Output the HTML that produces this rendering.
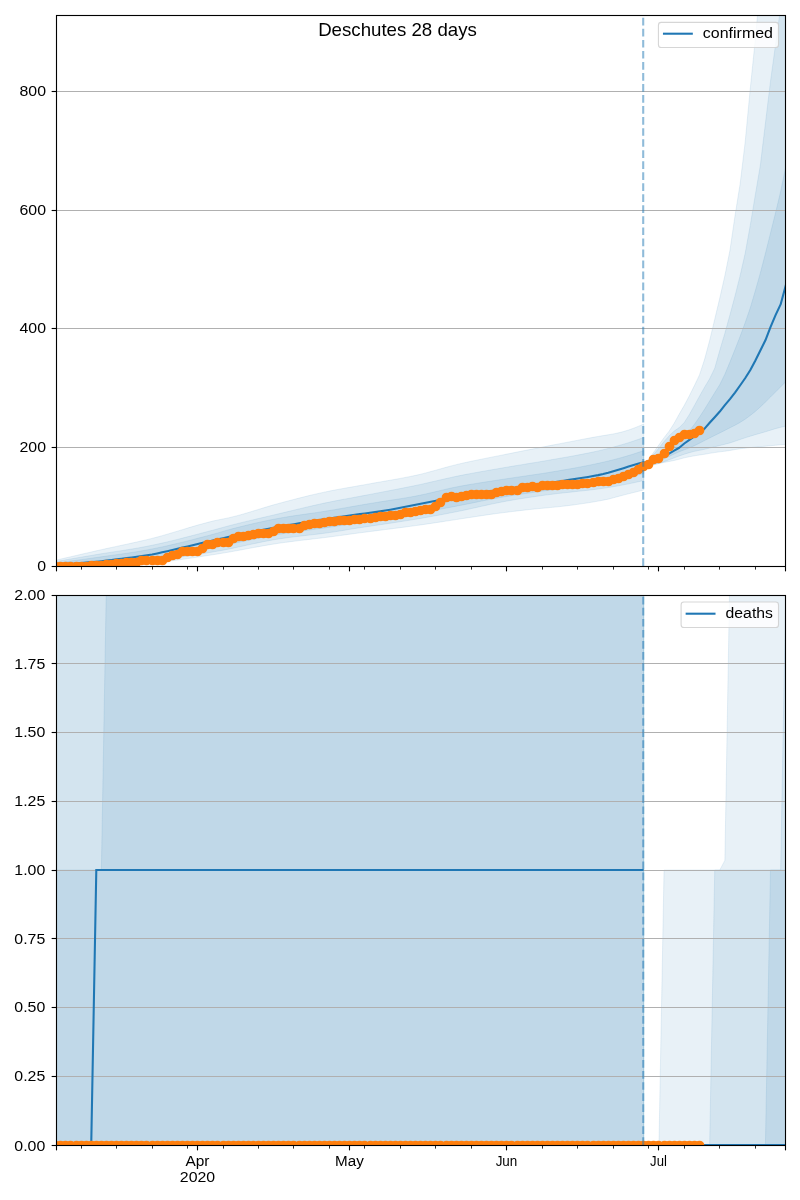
<!DOCTYPE html>
<html><head><meta charset="utf-8"><title>Deschutes 28 days</title>
<style>html,body{margin:0;padding:0;background:#fff;}body{width:800px;height:1200px;position:relative;overflow:hidden;font-family:"Liberation Sans",sans-serif;}</style></head>
<body>
<svg width="800" height="1200" viewBox="0 0 800 1200" style="position:absolute;left:0;top:0;will-change:transform" font-family="'Liberation Sans', sans-serif" fill="#000">
<defs><clipPath id="c1"><rect x="56.00" y="15.00" width="729.00" height="551.00"/></clipPath><clipPath id="c2"><rect x="56.00" y="595.00" width="729.00" height="550.00"/></clipPath></defs>
<rect width="800" height="1200" fill="#fff"/>
<g clip-path="url(#c1)">
<path d="M55.75,560.26 L60.82,559.06 L65.89,557.87 L70.96,556.69 L76.03,555.51 L81.09,554.33 L86.16,553.16 L91.23,552.00 L96.30,550.84 L101.37,549.69 L106.44,548.56 L111.51,547.46 L116.58,546.38 L121.65,545.29 L126.72,544.21 L131.78,543.11 L136.85,541.98 L141.92,540.83 L146.99,539.63 L152.06,538.38 L157.13,537.05 L162.20,535.65 L167.27,534.19 L172.34,532.69 L177.41,531.16 L182.47,529.63 L187.54,528.10 L192.61,526.59 L197.68,525.12 L202.75,523.71 L207.82,522.36 L212.89,521.10 L217.96,519.96 L223.03,518.95 L228.10,517.93 L233.16,516.73 L238.23,515.41 L243.30,514.00 L248.37,512.51 L253.44,510.98 L258.51,509.42 L263.58,507.86 L268.65,506.32 L273.72,504.84 L278.79,503.43 L283.86,502.08 L288.92,500.74 L293.99,499.42 L299.06,498.11 L304.13,496.83 L309.20,495.59 L314.27,494.38 L319.34,493.23 L324.41,492.13 L329.48,491.08 L334.55,490.09 L339.61,489.14 L344.68,488.22 L349.75,487.33 L354.82,486.44 L359.89,485.56 L364.96,484.66 L370.03,483.74 L375.10,482.83 L380.17,481.94 L385.24,481.07 L390.30,480.19 L395.37,479.30 L400.44,478.38 L405.51,477.43 L410.58,476.43 L415.65,475.36 L420.72,474.19 L425.79,472.91 L430.86,471.55 L435.93,470.15 L440.99,468.73 L446.06,467.32 L451.13,465.95 L456.20,464.66 L461.27,463.46 L466.34,462.33 L471.41,461.24 L476.48,460.19 L481.55,459.16 L486.62,458.14 L491.68,457.14 L496.75,456.14 L501.82,455.14 L506.89,454.12 L511.96,453.10 L517.03,452.09 L522.10,451.08 L527.17,450.08 L532.24,449.08 L537.31,448.08 L542.37,447.09 L547.44,446.10 L552.51,445.11 L557.58,444.13 L562.65,443.15 L567.72,442.17 L572.79,441.19 L577.86,440.22 L582.93,439.26 L588.00,438.30 L593.06,437.36 L598.13,436.45 L603.20,435.61 L608.27,434.80 L613.34,433.91 L618.41,432.87 L623.48,431.59 L628.55,430.02 L633.62,428.21 L638.68,426.18 L643.75,424.00 L643.75,490.00 L638.68,491.26 L633.62,492.53 L628.55,493.81 L623.48,495.11 L618.41,496.42 L613.34,497.83 L608.27,499.13 L603.20,500.16 L598.13,501.11 L593.06,502.00 L588.00,502.83 L582.93,503.60 L577.86,504.33 L572.79,505.02 L567.72,505.67 L562.65,506.28 L557.58,506.83 L552.51,507.33 L547.44,507.81 L542.37,508.27 L537.31,508.75 L532.24,509.26 L527.17,509.81 L522.10,510.39 L517.03,510.98 L511.96,511.58 L506.89,512.21 L501.82,512.85 L496.75,513.52 L491.68,514.20 L486.62,514.93 L481.55,515.69 L476.48,516.46 L471.41,517.25 L466.34,518.03 L461.27,518.81 L456.20,519.57 L451.13,520.34 L446.06,521.12 L440.99,521.90 L435.93,522.67 L430.86,523.43 L425.79,524.17 L420.72,524.90 L415.65,525.60 L410.58,526.30 L405.51,526.97 L400.44,527.64 L395.37,528.30 L390.30,528.95 L385.24,529.59 L380.17,530.24 L375.10,530.89 L370.03,531.53 L364.96,532.19 L359.89,532.85 L354.82,533.52 L349.75,534.21 L344.68,534.91 L339.61,535.61 L334.55,536.30 L329.48,536.97 L324.41,537.61 L319.34,538.23 L314.27,538.83 L309.20,539.42 L304.13,540.02 L299.06,540.62 L293.99,541.24 L288.92,541.88 L283.86,542.56 L278.79,543.28 L273.72,544.05 L268.65,544.88 L263.58,545.75 L258.51,546.66 L253.44,547.59 L248.37,548.53 L243.30,549.48 L238.23,550.43 L233.16,551.35 L228.10,552.26 L223.03,553.12 L217.96,553.95 L212.89,554.72 L207.82,555.50 L202.75,556.28 L197.68,557.07 L192.61,557.84 L187.54,558.61 L182.47,559.35 L177.41,560.05 L172.34,560.72 L167.27,561.35 L162.20,561.91 L157.13,562.41 L152.06,562.85 L146.99,563.21 L141.92,563.56 L136.85,563.89 L131.78,564.20 L126.72,564.49 L121.65,564.75 L116.58,564.98 L111.51,565.18 L106.44,565.35 L101.37,565.47 L96.30,565.57 L91.23,565.65 L86.16,565.74 L81.09,565.81 L76.03,565.87 L70.96,565.93 L65.89,565.97 L60.82,565.99 L55.75,566.00Z" fill="#1f77b4" fill-opacity="0.1" stroke="#1f77b4" stroke-opacity="0.1" stroke-width="1" stroke-linejoin="round"/>
<path d="M55.75,561.54 L60.82,560.66 L65.89,559.78 L70.96,558.91 L76.03,558.04 L81.09,557.18 L86.16,556.32 L91.23,555.47 L96.30,554.62 L101.37,553.77 L106.44,552.96 L111.51,552.17 L116.58,551.40 L121.65,550.63 L126.72,549.84 L131.78,549.03 L136.85,548.18 L141.92,547.28 L146.99,546.31 L152.06,545.28 L157.13,544.20 L162.20,543.06 L167.27,541.88 L172.34,540.66 L177.41,539.41 L182.47,538.12 L187.54,536.82 L192.61,535.50 L197.68,534.16 L202.75,532.83 L207.82,531.49 L212.89,530.15 L217.96,528.81 L223.03,527.40 L228.10,526.00 L233.16,524.69 L238.23,523.41 L243.30,522.17 L248.37,520.94 L253.44,519.73 L258.51,518.54 L263.58,517.35 L268.65,516.16 L273.72,514.98 L278.79,513.79 L283.86,512.58 L288.92,511.37 L293.99,510.14 L299.06,508.92 L304.13,507.71 L309.20,506.52 L314.27,505.35 L319.34,504.22 L324.41,503.12 L329.48,502.08 L334.55,501.07 L339.61,500.09 L344.68,499.13 L349.75,498.19 L354.82,497.25 L359.89,496.31 L364.96,495.36 L370.03,494.39 L375.10,493.42 L380.17,492.45 L385.24,491.48 L390.30,490.51 L395.37,489.53 L400.44,488.54 L405.51,487.53 L410.58,486.51 L415.65,485.46 L420.72,484.38 L425.79,483.25 L430.86,482.09 L435.93,480.91 L440.99,479.74 L446.06,478.58 L451.13,477.46 L456.20,476.37 L461.27,475.35 L466.34,474.37 L471.41,473.41 L476.48,472.48 L481.55,471.57 L486.62,470.68 L491.68,469.80 L496.75,468.92 L501.82,468.05 L506.89,467.17 L511.96,466.32 L517.03,465.48 L522.10,464.65 L527.17,463.82 L532.24,462.99 L537.31,462.16 L542.37,461.31 L547.44,460.45 L552.51,459.56 L557.58,458.67 L562.65,457.79 L567.72,456.90 L572.79,455.99 L577.86,455.05 L582.93,454.08 L588.00,453.08 L593.06,452.02 L598.13,450.90 L603.20,449.71 L608.27,448.44 L613.34,447.10 L618.41,445.70 L623.48,444.23 L628.55,442.67 L633.62,441.02 L638.68,439.30 L643.75,437.50 L643.75,480.50 L638.68,481.67 L633.62,482.79 L628.55,483.85 L623.48,484.85 L618.41,485.79 L613.34,486.68 L608.27,487.52 L603.20,488.29 L598.13,489.00 L593.06,489.65 L588.00,490.26 L582.93,490.82 L577.86,491.37 L572.79,491.90 L567.72,492.44 L562.65,492.99 L557.58,493.56 L552.51,494.18 L547.44,494.84 L542.37,495.52 L537.31,496.23 L532.24,496.96 L527.17,497.72 L522.10,498.51 L517.03,499.32 L511.96,500.16 L506.89,501.05 L501.82,502.03 L496.75,503.04 L491.68,504.09 L486.62,505.18 L481.55,506.30 L476.48,507.44 L471.41,508.57 L466.34,509.68 L461.27,510.74 L456.20,511.76 L451.13,512.76 L446.06,513.75 L440.99,514.72 L435.93,515.67 L430.86,516.59 L425.79,517.50 L420.72,518.38 L415.65,519.23 L410.58,520.06 L405.51,520.86 L400.44,521.65 L395.37,522.43 L390.30,523.19 L385.24,523.94 L380.17,524.69 L375.10,525.45 L370.03,526.20 L364.96,526.96 L359.89,527.74 L354.82,528.53 L349.75,529.35 L344.68,530.19 L339.61,531.02 L334.55,531.82 L329.48,532.57 L324.41,533.26 L319.34,533.90 L314.27,534.50 L309.20,535.09 L304.13,535.67 L299.06,536.25 L293.99,536.86 L288.92,537.50 L283.86,538.19 L278.79,538.94 L273.72,539.77 L268.65,540.69 L263.58,541.67 L258.51,542.70 L253.44,543.77 L248.37,544.86 L243.30,545.96 L238.23,547.06 L233.16,548.13 L228.10,549.17 L223.03,550.16 L217.96,551.09 L212.89,551.95 L207.82,552.80 L202.75,553.63 L197.68,554.46 L192.61,555.27 L187.54,556.06 L182.47,556.83 L177.41,557.58 L172.34,558.30 L167.27,558.98 L162.20,559.62 L157.13,560.23 L152.06,560.79 L146.99,561.31 L141.92,561.82 L136.85,562.32 L131.78,562.81 L126.72,563.27 L121.65,563.70 L116.58,564.09 L111.51,564.43 L106.44,564.72 L101.37,564.95 L96.30,565.13 L91.23,565.30 L86.16,565.46 L81.09,565.61 L76.03,565.74 L70.96,565.85 L65.89,565.93 L60.82,565.98 L55.75,566.00Z" fill="#1f77b4" fill-opacity="0.1" stroke="#1f77b4" stroke-opacity="0.1" stroke-width="1" stroke-linejoin="round"/>
<path d="M55.75,563.03 L60.82,562.37 L65.89,561.70 L70.96,561.02 L76.03,560.34 L81.09,559.64 L86.16,558.94 L91.23,558.24 L96.30,557.52 L101.37,556.81 L106.44,556.10 L111.51,555.40 L116.58,554.69 L121.65,553.98 L126.72,553.25 L131.78,552.49 L136.85,551.69 L141.92,550.84 L146.99,549.94 L152.06,548.97 L157.13,547.95 L162.20,546.88 L167.27,545.77 L172.34,544.61 L177.41,543.41 L182.47,542.18 L187.54,540.92 L192.61,539.63 L197.68,538.32 L202.75,537.00 L207.82,535.66 L212.89,534.31 L217.96,532.92 L223.03,531.40 L228.10,529.91 L233.16,528.58 L238.23,527.29 L243.30,526.04 L248.37,524.81 L253.44,523.62 L258.51,522.47 L263.58,521.36 L268.65,520.29 L273.72,519.28 L278.79,518.32 L283.86,517.42 L288.92,516.59 L293.99,515.80 L299.06,515.06 L304.13,514.33 L309.20,513.61 L314.27,512.89 L319.34,512.13 L324.41,511.35 L329.48,510.52 L334.55,509.66 L339.61,508.79 L344.68,507.90 L349.75,507.01 L354.82,506.12 L359.89,505.23 L364.96,504.35 L370.03,503.50 L375.10,502.67 L380.17,501.87 L385.24,501.08 L390.30,500.30 L395.37,499.52 L400.44,498.71 L405.51,497.88 L410.58,497.00 L415.65,496.08 L420.72,495.06 L425.79,493.96 L430.86,492.79 L435.93,491.60 L440.99,490.39 L446.06,489.20 L451.13,488.06 L456.20,486.99 L461.27,486.01 L466.34,485.11 L471.41,484.24 L476.48,483.41 L481.55,482.60 L486.62,481.81 L491.68,481.04 L496.75,480.27 L501.82,479.49 L506.89,478.71 L511.96,477.94 L517.03,477.20 L522.10,476.46 L527.17,475.73 L532.24,474.99 L537.31,474.24 L542.37,473.47 L547.44,472.67 L552.51,471.83 L557.58,470.99 L562.65,470.12 L567.72,469.24 L572.79,468.33 L577.86,467.40 L582.93,466.43 L588.00,465.44 L593.06,464.40 L598.13,463.33 L603.20,462.20 L608.27,461.00 L613.34,459.75 L618.41,458.43 L623.48,457.03 L628.55,455.55 L633.62,453.97 L638.68,452.32 L643.75,450.60 L643.75,473.55 L638.68,474.79 L633.62,476.03 L628.55,477.30 L623.48,478.54 L618.41,479.70 L613.34,480.82 L608.27,481.89 L603.20,482.87 L598.13,483.73 L593.06,484.50 L588.00,485.20 L582.93,485.86 L577.86,486.50 L572.79,487.13 L567.72,487.77 L562.65,488.41 L557.58,489.05 L552.51,489.72 L547.44,490.41 L542.37,491.12 L537.31,491.84 L532.24,492.57 L527.17,493.30 L522.10,494.05 L517.03,494.81 L511.96,495.59 L506.89,496.40 L501.82,497.27 L496.75,498.18 L491.68,499.12 L486.62,500.10 L481.55,501.11 L476.48,502.14 L471.41,503.18 L466.34,504.20 L461.27,505.20 L456.20,506.18 L451.13,507.15 L446.06,508.12 L440.99,509.08 L435.93,510.03 L430.86,510.96 L425.79,511.89 L420.72,512.80 L415.65,513.70 L410.58,514.59 L405.51,515.47 L400.44,516.35 L395.37,517.21 L390.30,518.05 L385.24,518.86 L380.17,519.64 L375.10,520.38 L370.03,521.10 L364.96,521.82 L359.89,522.56 L354.82,523.32 L349.75,524.10 L344.68,524.90 L339.61,525.70 L334.55,526.49 L329.48,527.25 L324.41,527.97 L319.34,528.66 L314.27,529.34 L309.20,530.01 L304.13,530.67 L299.06,531.35 L293.99,532.05 L288.92,532.77 L283.86,533.53 L278.79,534.33 L273.72,535.20 L268.65,536.13 L263.58,537.11 L258.51,538.13 L253.44,539.18 L248.37,540.25 L243.30,541.34 L238.23,542.43 L233.16,543.51 L228.10,544.58 L223.03,545.62 L217.96,546.63 L212.89,547.59 L207.82,548.56 L202.75,549.53 L197.68,550.50 L192.61,551.46 L187.54,552.41 L182.47,553.34 L177.41,554.24 L172.34,555.14 L167.27,556.02 L162.20,556.86 L157.13,557.65 L152.06,558.37 L146.99,559.02 L141.92,559.63 L136.85,560.21 L131.78,560.76 L126.72,561.30 L121.65,561.81 L116.58,562.30 L111.51,562.75 L106.44,563.16 L101.37,563.51 L96.30,563.81 L91.23,564.11 L86.16,564.39 L81.09,564.66 L76.03,564.90 L70.96,565.13 L65.89,565.32 L60.82,565.49 L55.75,565.63Z" fill="#1f77b4" fill-opacity="0.1" stroke="#1f77b4" stroke-opacity="0.1" stroke-width="1" stroke-linejoin="round"/>
<path d="M643.75,466.19 L648.82,459.10 L653.89,451.99 L658.96,444.83 L664.03,437.72 L669.10,431.17 L674.17,423.25 L679.24,414.04 L684.31,405.35 L689.38,395.68 L694.44,385.51 L699.51,374.90 L704.58,359.36 L709.65,340.46 L714.72,319.27 L719.79,298.07 L724.86,275.66 L729.93,250.42 L735.00,215.79 L740.06,184.37 L745.13,142.43 L750.20,89.28 L755.27,39.75 L760.34,-16.66 L765.41,-80.76 L770.48,-162.51 L775.55,-249.00 L780.62,-332.11 L785.69,-414.88 L785.69,444.33 L780.62,444.79 L775.55,445.25 L770.48,445.73 L765.41,446.21 L760.34,446.68 L755.27,447.13 L750.20,447.60 L745.13,448.13 L740.06,448.74 L735.00,449.60 L729.93,450.51 L724.86,451.21 L719.79,451.85 L714.72,452.54 L709.65,453.37 L704.58,454.24 L699.51,455.01 L694.44,455.80 L689.38,456.76 L684.31,457.87 L679.24,459.20 L674.17,460.47 L669.10,461.48 L664.03,462.44 L658.96,463.46 L653.89,464.45 L648.82,465.36 L643.75,466.20Z" fill="#1f77b4" fill-opacity="0.1" stroke="#1f77b4" stroke-opacity="0.1" stroke-width="1" stroke-linejoin="round"/>
<path d="M643.75,466.20 L648.82,460.39 L653.89,454.35 L658.96,447.94 L664.03,441.57 L669.10,435.91 L674.17,431.09 L679.24,427.58 L684.31,422.43 L689.38,414.45 L694.44,405.41 L699.51,396.19 L704.58,387.19 L709.65,378.77 L714.72,368.24 L719.79,350.32 L724.86,333.27 L729.93,314.94 L735.00,295.97 L740.06,275.90 L745.13,253.59 L750.20,225.70 L755.27,195.15 L760.34,165.25 L765.41,123.29 L770.48,81.38 L775.55,44.46 L780.62,7.61 L785.69,-46.15 L785.69,426.17 L780.62,427.31 L775.55,428.64 L770.48,430.19 L765.41,431.78 L760.34,433.24 L755.27,434.68 L750.20,436.21 L745.13,437.82 L740.06,439.48 L735.00,441.25 L729.93,442.92 L724.86,444.24 L719.79,445.51 L714.72,446.77 L709.65,448.07 L704.58,449.31 L699.51,450.33 L694.44,451.34 L689.38,452.65 L684.31,454.21 L679.24,455.93 L674.17,457.86 L669.10,459.82 L664.03,461.64 L658.96,463.44 L653.89,464.84 L648.82,465.70 L643.75,466.20Z" fill="#1f77b4" fill-opacity="0.1" stroke="#1f77b4" stroke-opacity="0.1" stroke-width="1" stroke-linejoin="round"/>
<path d="M643.75,466.20 L648.82,463.32 L653.89,460.21 L658.96,456.85 L664.03,453.22 L669.10,449.34 L674.17,445.20 L679.24,440.86 L684.31,436.18 L689.38,430.84 L694.44,424.26 L699.51,417.00 L704.58,409.21 L709.65,400.93 L714.72,392.66 L719.79,384.60 L724.86,374.25 L729.93,362.10 L735.00,349.41 L740.06,336.57 L745.13,322.82 L750.20,308.12 L755.27,290.93 L760.34,273.00 L765.41,253.53 L770.48,233.13 L775.55,212.86 L780.62,191.57 L785.69,167.13 L785.69,381.81 L780.62,386.88 L775.55,391.97 L770.48,397.11 L765.41,402.11 L760.34,406.90 L755.27,411.47 L750.20,415.53 L745.13,419.20 L740.06,422.46 L735.00,425.23 L729.93,427.79 L724.86,430.38 L719.79,432.91 L714.72,435.44 L709.65,438.00 L704.58,440.56 L699.51,443.16 L694.44,445.68 L689.38,447.86 L684.31,449.84 L679.24,451.81 L674.17,454.00 L669.10,456.40 L664.03,458.78 L658.96,460.91 L653.89,462.82 L648.82,464.59 L643.75,466.20Z" fill="#1f77b4" fill-opacity="0.1" stroke="#1f77b4" stroke-opacity="0.1" stroke-width="1" stroke-linejoin="round"/>
</g>
<line x1="56.00" x2="785.00" y1="447.5" y2="447.5" stroke="#b0b0b0" stroke-width="1.11"/>
<line x1="56.00" x2="785.00" y1="328.5" y2="328.5" stroke="#b0b0b0" stroke-width="1.11"/>
<line x1="56.00" x2="785.00" y1="210.5" y2="210.5" stroke="#b0b0b0" stroke-width="1.11"/>
<line x1="56.00" x2="785.00" y1="91.5" y2="91.5" stroke="#b0b0b0" stroke-width="1.11"/>
<g clip-path="url(#c1)">
<path d="M55.75,565.02 L60.82,564.69 L65.89,564.33 L70.96,563.95 L76.03,563.53 L81.09,563.10 L86.16,562.64 L91.23,562.16 L96.30,561.67 L101.37,561.16 L106.44,560.61 L111.51,560.01 L116.58,559.38 L121.65,558.73 L126.72,558.08 L131.78,557.43 L136.85,556.76 L141.92,556.06 L146.99,555.29 L152.06,554.44 L157.13,553.45 L162.20,552.35 L167.27,551.19 L172.34,549.99 L177.41,548.80 L182.47,547.63 L187.54,546.45 L192.61,545.25 L197.68,544.04 L202.75,542.83 L207.82,541.64 L212.89,540.47 L217.96,539.34 L223.03,538.21 L228.10,537.09 L233.16,535.98 L238.23,534.89 L243.30,533.80 L248.37,532.73 L253.44,531.69 L258.51,530.66 L263.58,529.66 L268.65,528.69 L273.72,527.74 L278.79,526.82 L283.86,525.93 L288.92,525.06 L293.99,524.20 L299.06,523.36 L304.13,522.53 L309.20,521.71 L314.27,520.91 L319.34,520.11 L324.41,519.33 L329.48,518.55 L334.55,517.79 L339.61,517.03 L344.68,516.28 L349.75,515.54 L354.82,514.81 L359.89,514.10 L364.96,513.43 L370.03,512.78 L375.10,512.11 L380.17,511.38 L385.24,510.57 L390.30,509.67 L395.37,508.70 L400.44,507.70 L405.51,506.67 L410.58,505.66 L415.65,504.68 L420.72,503.71 L425.79,502.74 L430.86,501.78 L435.93,500.83 L440.99,499.88 L446.06,498.93 L451.13,498.00 L456.20,497.07 L461.27,496.16 L466.34,495.27 L471.41,494.38 L476.48,493.51 L481.55,492.65 L486.62,491.82 L491.68,491.01 L496.75,490.24 L501.82,489.50 L506.89,488.80 L511.96,488.11 L517.03,487.44 L522.10,486.77 L527.17,486.09 L532.24,485.39 L537.31,484.67 L542.37,483.94 L547.44,483.20 L552.51,482.45 L557.58,481.70 L562.65,480.93 L567.72,480.15 L572.79,479.35 L577.86,478.55 L582.93,477.76 L588.00,476.95 L593.06,476.09 L598.13,475.13 L603.20,474.02 L608.27,472.71 L613.34,471.26 L618.41,469.77 L623.48,468.24 L628.55,466.61 L633.62,465.01 L638.68,463.56 L643.75,462.20" fill="none" stroke="#1f77b4" stroke-width="2.08" stroke-linejoin="round" stroke-linecap="square"/>
<path d="M643.75,466.20 L648.82,463.94 L653.89,461.54 L658.96,459.01 L664.03,456.33 L669.10,453.56 L674.17,450.67 L679.24,447.75 L684.31,443.52 L689.38,439.91 L694.44,436.32 L699.51,432.36 L704.58,428.58 L709.65,422.80 L714.72,417.21 L719.79,411.55 L724.86,405.07 L729.93,399.09 L735.00,392.53 L740.06,385.51 L745.13,378.25 L750.20,370.25 L755.27,360.72 L760.34,350.51 L765.41,340.31 L770.48,327.20 L775.55,315.10 L780.62,304.40 L785.69,285.89" fill="none" stroke="#1f77b4" stroke-width="2.08" stroke-linejoin="round" stroke-linecap="square"/>
<g fill="#ff7f0e">
<circle cx="55.5" cy="566.5" r="4.86"/>
<circle cx="60.5" cy="566.5" r="4.86"/>
<circle cx="65.5" cy="566.5" r="4.86"/>
<circle cx="70.5" cy="566.5" r="4.86"/>
<circle cx="76.5" cy="566.5" r="4.86"/>
<circle cx="81.5" cy="566.5" r="4.86"/>
<circle cx="86.5" cy="566.5" r="4.86"/>
<circle cx="91.5" cy="565.5" r="4.86"/>
<circle cx="96.5" cy="565.5" r="4.86"/>
<circle cx="101.5" cy="565.5" r="4.86"/>
<circle cx="106.5" cy="564.5" r="4.86"/>
<circle cx="111.5" cy="564.5" r="4.86"/>
<circle cx="116.5" cy="563.5" r="4.86"/>
<circle cx="121.5" cy="563.5" r="4.86"/>
<circle cx="126.5" cy="562.5" r="4.86"/>
<circle cx="131.5" cy="562.5" r="4.86"/>
<circle cx="136.5" cy="562.5" r="4.86"/>
<circle cx="141.5" cy="560.5" r="4.86"/>
<circle cx="146.5" cy="560.5" r="4.86"/>
<circle cx="152.5" cy="560.5" r="4.86"/>
<circle cx="157.5" cy="560.5" r="4.86"/>
<circle cx="162.5" cy="560.5" r="4.86"/>
<circle cx="167.5" cy="557.5" r="4.86"/>
<circle cx="172.5" cy="555.5" r="4.86"/>
<circle cx="177.5" cy="554.5" r="4.86"/>
<circle cx="182.5" cy="551.5" r="4.86"/>
<circle cx="187.5" cy="551.5" r="4.86"/>
<circle cx="192.5" cy="551.5" r="4.86"/>
<circle cx="197.5" cy="551.5" r="4.86"/>
<circle cx="202.5" cy="548.5" r="4.86"/>
<circle cx="207.5" cy="544.5" r="4.86"/>
<circle cx="212.5" cy="544.5" r="4.86"/>
<circle cx="217.5" cy="542.5" r="4.86"/>
<circle cx="223.5" cy="542.5" r="4.86"/>
<circle cx="228.5" cy="542.5" r="4.86"/>
<circle cx="233.5" cy="538.5" r="4.86"/>
<circle cx="238.5" cy="536.5" r="4.86"/>
<circle cx="243.5" cy="536.5" r="4.86"/>
<circle cx="248.5" cy="535.5" r="4.86"/>
<circle cx="253.5" cy="534.5" r="4.86"/>
<circle cx="258.5" cy="533.5" r="4.86"/>
<circle cx="263.5" cy="533.5" r="4.86"/>
<circle cx="268.5" cy="533.5" r="4.86"/>
<circle cx="273.5" cy="531.5" r="4.86"/>
<circle cx="278.5" cy="528.5" r="4.86"/>
<circle cx="283.5" cy="528.5" r="4.86"/>
<circle cx="288.5" cy="528.5" r="4.86"/>
<circle cx="293.5" cy="528.5" r="4.86"/>
<circle cx="299.5" cy="528.5" r="4.86"/>
<circle cx="304.5" cy="525.5" r="4.86"/>
<circle cx="309.5" cy="524.5" r="4.86"/>
<circle cx="314.5" cy="523.5" r="4.86"/>
<circle cx="319.5" cy="523.5" r="4.86"/>
<circle cx="324.5" cy="522.5" r="4.86"/>
<circle cx="329.5" cy="521.5" r="4.86"/>
<circle cx="334.5" cy="521.5" r="4.86"/>
<circle cx="339.5" cy="520.5" r="4.86"/>
<circle cx="344.5" cy="520.5" r="4.86"/>
<circle cx="349.5" cy="520.5" r="4.86"/>
<circle cx="354.5" cy="519.5" r="4.86"/>
<circle cx="359.5" cy="519.5" r="4.86"/>
<circle cx="364.5" cy="518.5" r="4.86"/>
<circle cx="370.5" cy="518.5" r="4.86"/>
<circle cx="375.5" cy="517.5" r="4.86"/>
<circle cx="380.5" cy="516.5" r="4.86"/>
<circle cx="385.5" cy="516.5" r="4.86"/>
<circle cx="390.5" cy="515.5" r="4.86"/>
<circle cx="395.5" cy="515.5" r="4.86"/>
<circle cx="400.5" cy="514.5" r="4.86"/>
<circle cx="405.5" cy="512.5" r="4.86"/>
<circle cx="410.5" cy="512.5" r="4.86"/>
<circle cx="415.5" cy="511.5" r="4.86"/>
<circle cx="420.5" cy="510.5" r="4.86"/>
<circle cx="425.5" cy="509.5" r="4.86"/>
<circle cx="430.5" cy="509.5" r="4.86"/>
<circle cx="435.5" cy="506.5" r="4.86"/>
<circle cx="440.5" cy="502.5" r="4.86"/>
<circle cx="446.5" cy="497.5" r="4.86"/>
<circle cx="451.5" cy="496.5" r="4.86"/>
<circle cx="456.5" cy="497.5" r="4.86"/>
<circle cx="461.5" cy="496.5" r="4.86"/>
<circle cx="466.5" cy="495.5" r="4.86"/>
<circle cx="471.5" cy="494.5" r="4.86"/>
<circle cx="476.5" cy="494.5" r="4.86"/>
<circle cx="481.5" cy="494.5" r="4.86"/>
<circle cx="486.5" cy="494.5" r="4.86"/>
<circle cx="491.5" cy="494.5" r="4.86"/>
<circle cx="496.5" cy="492.5" r="4.86"/>
<circle cx="501.5" cy="491.5" r="4.86"/>
<circle cx="506.5" cy="490.5" r="4.86"/>
<circle cx="511.5" cy="490.5" r="4.86"/>
<circle cx="517.5" cy="490.5" r="4.86"/>
<circle cx="522.5" cy="487.5" r="4.86"/>
<circle cx="527.5" cy="487.5" r="4.86"/>
<circle cx="532.5" cy="486.5" r="4.86"/>
<circle cx="537.5" cy="487.5" r="4.86"/>
<circle cx="542.5" cy="485.5" r="4.86"/>
<circle cx="547.5" cy="485.5" r="4.86"/>
<circle cx="552.5" cy="485.5" r="4.86"/>
<circle cx="557.5" cy="485.5" r="4.86"/>
<circle cx="562.5" cy="484.5" r="4.86"/>
<circle cx="567.5" cy="484.5" r="4.86"/>
<circle cx="572.5" cy="484.5" r="4.86"/>
<circle cx="577.5" cy="484.5" r="4.86"/>
<circle cx="582.5" cy="483.5" r="4.86"/>
<circle cx="587.5" cy="483.5" r="4.86"/>
<circle cx="593.5" cy="482.5" r="4.86"/>
<circle cx="598.5" cy="481.5" r="4.86"/>
<circle cx="603.5" cy="481.5" r="4.86"/>
<circle cx="608.5" cy="481.5" r="4.86"/>
<circle cx="613.5" cy="479.5" r="4.86"/>
<circle cx="618.5" cy="478.5" r="4.86"/>
<circle cx="623.5" cy="476.5" r="4.86"/>
<circle cx="628.5" cy="474.5" r="4.86"/>
<circle cx="633.5" cy="472.5" r="4.86"/>
<circle cx="638.5" cy="469.5" r="4.86"/>
<circle cx="643.5" cy="466.5" r="4.86"/>
<circle cx="648.5" cy="464.5" r="4.86"/>
<circle cx="653.5" cy="459.5" r="4.86"/>
<circle cx="658.5" cy="458.5" r="4.86"/>
<circle cx="664.5" cy="453.5" r="4.86"/>
<circle cx="669.5" cy="446.5" r="4.86"/>
<circle cx="674.5" cy="440.5" r="4.86"/>
<circle cx="679.5" cy="437.5" r="4.86"/>
<circle cx="684.5" cy="434.5" r="4.86"/>
<circle cx="689.5" cy="434.5" r="4.86"/>
<circle cx="694.5" cy="433.5" r="4.86"/>
<circle cx="699.5" cy="430.5" r="4.86"/>
</g>
<line x1="643.2" x2="643.2" y1="566.0" y2="15.0" stroke="#1f77b4" stroke-opacity="0.5" stroke-width="2.08" stroke-dasharray="7.7,3.33"/>
</g>
<g clip-path="url(#c2)">
<path d="M55.75,1145.00 L55.75,320.00 L643.75,320.00 L643.75,1145.00Z" fill="#1f77b4" fill-opacity="0.1" stroke="#1f77b4" stroke-opacity="0.1" stroke-width="1" stroke-linejoin="round"/>
<path d="M55.75,1145.00 L55.75,320.00 L643.75,320.00 L643.75,1145.00Z" fill="#1f77b4" fill-opacity="0.1" stroke="#1f77b4" stroke-opacity="0.1" stroke-width="1" stroke-linejoin="round"/>
<path d="M55.75,1145.00 L55.75,870.00 L101.37,870.00 L106.44,581.25 L111.51,320.00 L643.75,320.00 L643.75,1145.00Z" fill="#1f77b4" fill-opacity="0.1" stroke="#1f77b4" stroke-opacity="0.1" stroke-width="1" stroke-linejoin="round"/>
<path d="M643.75,1145.00 L658.96,1145.00 L664.03,870.00 L719.79,870.00 L724.86,860.38 L729.93,567.50 L735.00,320.00 L785.69,320.00 L785.69,1145.00Z" fill="#1f77b4" fill-opacity="0.1" stroke="#1f77b4" stroke-opacity="0.1" stroke-width="1" stroke-linejoin="round"/>
<path d="M643.75,1145.00 L709.65,1145.00 L714.72,870.00 L780.62,870.00 L785.69,595.00 L785.69,1145.00Z" fill="#1f77b4" fill-opacity="0.1" stroke="#1f77b4" stroke-opacity="0.1" stroke-width="1" stroke-linejoin="round"/>
<path d="M643.75,1145.00 L765.41,1145.00 L770.48,870.00 L785.69,870.00 L785.69,1145.00Z" fill="#1f77b4" fill-opacity="0.1" stroke="#1f77b4" stroke-opacity="0.1" stroke-width="1" stroke-linejoin="round"/>
</g>
<line x1="56.00" x2="785.00" y1="1076.5" y2="1076.5" stroke="#b0b0b0" stroke-width="1.11"/>
<line x1="56.00" x2="785.00" y1="1007.5" y2="1007.5" stroke="#b0b0b0" stroke-width="1.11"/>
<line x1="56.00" x2="785.00" y1="938.5" y2="938.5" stroke="#b0b0b0" stroke-width="1.11"/>
<line x1="56.00" x2="785.00" y1="870.5" y2="870.5" stroke="#b0b0b0" stroke-width="1.11"/>
<line x1="56.00" x2="785.00" y1="801.5" y2="801.5" stroke="#b0b0b0" stroke-width="1.11"/>
<line x1="56.00" x2="785.00" y1="732.5" y2="732.5" stroke="#b0b0b0" stroke-width="1.11"/>
<line x1="56.00" x2="785.00" y1="663.5" y2="663.5" stroke="#b0b0b0" stroke-width="1.11"/>
<g clip-path="url(#c2)">
<path d="M54.75,1145.00 L91.23,1145.00 L96.30,870.00 L643.60,870.00" fill="none" stroke="#1f77b4" stroke-width="2.08" stroke-linejoin="miter" stroke-linecap="butt"/>
<path d="M643.75,1145.00 L785.69,1145.00" fill="none" stroke="#1f77b4" stroke-width="2.08" stroke-linecap="square"/>
<g fill="#ff7f0e">
<circle cx="55.5" cy="1145.5" r="4.86"/>
<circle cx="60.5" cy="1145.5" r="4.86"/>
<circle cx="65.5" cy="1145.5" r="4.86"/>
<circle cx="70.5" cy="1145.5" r="4.86"/>
<circle cx="76.5" cy="1145.5" r="4.86"/>
<circle cx="81.5" cy="1145.5" r="4.86"/>
<circle cx="86.5" cy="1145.5" r="4.86"/>
<circle cx="91.5" cy="1145.5" r="4.86"/>
<circle cx="96.5" cy="1145.5" r="4.86"/>
<circle cx="101.5" cy="1145.5" r="4.86"/>
<circle cx="106.5" cy="1145.5" r="4.86"/>
<circle cx="111.5" cy="1145.5" r="4.86"/>
<circle cx="116.5" cy="1145.5" r="4.86"/>
<circle cx="121.5" cy="1145.5" r="4.86"/>
<circle cx="126.5" cy="1145.5" r="4.86"/>
<circle cx="131.5" cy="1145.5" r="4.86"/>
<circle cx="136.5" cy="1145.5" r="4.86"/>
<circle cx="141.5" cy="1145.5" r="4.86"/>
<circle cx="146.5" cy="1145.5" r="4.86"/>
<circle cx="152.5" cy="1145.5" r="4.86"/>
<circle cx="157.5" cy="1145.5" r="4.86"/>
<circle cx="162.5" cy="1145.5" r="4.86"/>
<circle cx="167.5" cy="1145.5" r="4.86"/>
<circle cx="172.5" cy="1145.5" r="4.86"/>
<circle cx="177.5" cy="1145.5" r="4.86"/>
<circle cx="182.5" cy="1145.5" r="4.86"/>
<circle cx="187.5" cy="1145.5" r="4.86"/>
<circle cx="192.5" cy="1145.5" r="4.86"/>
<circle cx="197.5" cy="1145.5" r="4.86"/>
<circle cx="202.5" cy="1145.5" r="4.86"/>
<circle cx="207.5" cy="1145.5" r="4.86"/>
<circle cx="212.5" cy="1145.5" r="4.86"/>
<circle cx="217.5" cy="1145.5" r="4.86"/>
<circle cx="223.5" cy="1145.5" r="4.86"/>
<circle cx="228.5" cy="1145.5" r="4.86"/>
<circle cx="233.5" cy="1145.5" r="4.86"/>
<circle cx="238.5" cy="1145.5" r="4.86"/>
<circle cx="243.5" cy="1145.5" r="4.86"/>
<circle cx="248.5" cy="1145.5" r="4.86"/>
<circle cx="253.5" cy="1145.5" r="4.86"/>
<circle cx="258.5" cy="1145.5" r="4.86"/>
<circle cx="263.5" cy="1145.5" r="4.86"/>
<circle cx="268.5" cy="1145.5" r="4.86"/>
<circle cx="273.5" cy="1145.5" r="4.86"/>
<circle cx="278.5" cy="1145.5" r="4.86"/>
<circle cx="283.5" cy="1145.5" r="4.86"/>
<circle cx="288.5" cy="1145.5" r="4.86"/>
<circle cx="293.5" cy="1145.5" r="4.86"/>
<circle cx="299.5" cy="1145.5" r="4.86"/>
<circle cx="304.5" cy="1145.5" r="4.86"/>
<circle cx="309.5" cy="1145.5" r="4.86"/>
<circle cx="314.5" cy="1145.5" r="4.86"/>
<circle cx="319.5" cy="1145.5" r="4.86"/>
<circle cx="324.5" cy="1145.5" r="4.86"/>
<circle cx="329.5" cy="1145.5" r="4.86"/>
<circle cx="334.5" cy="1145.5" r="4.86"/>
<circle cx="339.5" cy="1145.5" r="4.86"/>
<circle cx="344.5" cy="1145.5" r="4.86"/>
<circle cx="349.5" cy="1145.5" r="4.86"/>
<circle cx="354.5" cy="1145.5" r="4.86"/>
<circle cx="359.5" cy="1145.5" r="4.86"/>
<circle cx="364.5" cy="1145.5" r="4.86"/>
<circle cx="370.5" cy="1145.5" r="4.86"/>
<circle cx="375.5" cy="1145.5" r="4.86"/>
<circle cx="380.5" cy="1145.5" r="4.86"/>
<circle cx="385.5" cy="1145.5" r="4.86"/>
<circle cx="390.5" cy="1145.5" r="4.86"/>
<circle cx="395.5" cy="1145.5" r="4.86"/>
<circle cx="400.5" cy="1145.5" r="4.86"/>
<circle cx="405.5" cy="1145.5" r="4.86"/>
<circle cx="410.5" cy="1145.5" r="4.86"/>
<circle cx="415.5" cy="1145.5" r="4.86"/>
<circle cx="420.5" cy="1145.5" r="4.86"/>
<circle cx="425.5" cy="1145.5" r="4.86"/>
<circle cx="430.5" cy="1145.5" r="4.86"/>
<circle cx="435.5" cy="1145.5" r="4.86"/>
<circle cx="440.5" cy="1145.5" r="4.86"/>
<circle cx="446.5" cy="1145.5" r="4.86"/>
<circle cx="451.5" cy="1145.5" r="4.86"/>
<circle cx="456.5" cy="1145.5" r="4.86"/>
<circle cx="461.5" cy="1145.5" r="4.86"/>
<circle cx="466.5" cy="1145.5" r="4.86"/>
<circle cx="471.5" cy="1145.5" r="4.86"/>
<circle cx="476.5" cy="1145.5" r="4.86"/>
<circle cx="481.5" cy="1145.5" r="4.86"/>
<circle cx="486.5" cy="1145.5" r="4.86"/>
<circle cx="491.5" cy="1145.5" r="4.86"/>
<circle cx="496.5" cy="1145.5" r="4.86"/>
<circle cx="501.5" cy="1145.5" r="4.86"/>
<circle cx="506.5" cy="1145.5" r="4.86"/>
<circle cx="511.5" cy="1145.5" r="4.86"/>
<circle cx="517.5" cy="1145.5" r="4.86"/>
<circle cx="522.5" cy="1145.5" r="4.86"/>
<circle cx="527.5" cy="1145.5" r="4.86"/>
<circle cx="532.5" cy="1145.5" r="4.86"/>
<circle cx="537.5" cy="1145.5" r="4.86"/>
<circle cx="542.5" cy="1145.5" r="4.86"/>
<circle cx="547.5" cy="1145.5" r="4.86"/>
<circle cx="552.5" cy="1145.5" r="4.86"/>
<circle cx="557.5" cy="1145.5" r="4.86"/>
<circle cx="562.5" cy="1145.5" r="4.86"/>
<circle cx="567.5" cy="1145.5" r="4.86"/>
<circle cx="572.5" cy="1145.5" r="4.86"/>
<circle cx="577.5" cy="1145.5" r="4.86"/>
<circle cx="582.5" cy="1145.5" r="4.86"/>
<circle cx="587.5" cy="1145.5" r="4.86"/>
<circle cx="593.5" cy="1145.5" r="4.86"/>
<circle cx="598.5" cy="1145.5" r="4.86"/>
<circle cx="603.5" cy="1145.5" r="4.86"/>
<circle cx="608.5" cy="1145.5" r="4.86"/>
<circle cx="613.5" cy="1145.5" r="4.86"/>
<circle cx="618.5" cy="1145.5" r="4.86"/>
<circle cx="623.5" cy="1145.5" r="4.86"/>
<circle cx="628.5" cy="1145.5" r="4.86"/>
<circle cx="633.5" cy="1145.5" r="4.86"/>
<circle cx="638.5" cy="1145.5" r="4.86"/>
<circle cx="643.5" cy="1145.5" r="4.86"/>
<circle cx="648.5" cy="1145.5" r="4.86"/>
<circle cx="653.5" cy="1145.5" r="4.86"/>
<circle cx="658.5" cy="1145.5" r="4.86"/>
<circle cx="664.5" cy="1145.5" r="4.86"/>
<circle cx="669.5" cy="1145.5" r="4.86"/>
<circle cx="674.5" cy="1145.5" r="4.86"/>
<circle cx="679.5" cy="1145.5" r="4.86"/>
<circle cx="684.5" cy="1145.5" r="4.86"/>
<circle cx="689.5" cy="1145.5" r="4.86"/>
<circle cx="694.5" cy="1145.5" r="4.86"/>
<circle cx="699.5" cy="1145.5" r="4.86"/>
</g>
<line x1="643.2" x2="643.2" y1="1145.0" y2="595.0" stroke="#1f77b4" stroke-opacity="0.5" stroke-width="2.08" stroke-dasharray="7.7,3.33"/>
</g>
<rect x="56.5" y="15.5" width="729.0" height="551.0" fill="none" stroke="#000" stroke-width="1.11" />
<rect x="56.5" y="595.5" width="729.0" height="550.0" fill="none" stroke="#000" stroke-width="1.11" />
<line x1="51.64" x2="56.50" y1="566.5" y2="566.5" stroke="#000" stroke-width="1.11"/>
<text x="46.00" y="570.50" font-size="14.90" text-anchor="end" textLength="8.84" lengthAdjust="spacingAndGlyphs">0</text>
<line x1="51.64" x2="56.50" y1="447.5" y2="447.5" stroke="#000" stroke-width="1.11"/>
<text x="46.00" y="451.90" font-size="14.90" text-anchor="end" textLength="26.51" lengthAdjust="spacingAndGlyphs">200</text>
<line x1="51.64" x2="56.50" y1="328.5" y2="328.5" stroke="#000" stroke-width="1.11"/>
<text x="46.00" y="333.30" font-size="14.90" text-anchor="end" textLength="26.51" lengthAdjust="spacingAndGlyphs">400</text>
<line x1="51.64" x2="56.50" y1="210.5" y2="210.5" stroke="#000" stroke-width="1.11"/>
<text x="46.00" y="214.70" font-size="14.90" text-anchor="end" textLength="26.51" lengthAdjust="spacingAndGlyphs">600</text>
<line x1="51.64" x2="56.50" y1="91.5" y2="91.5" stroke="#000" stroke-width="1.11"/>
<text x="46.00" y="96.10" font-size="14.90" text-anchor="end" textLength="26.51" lengthAdjust="spacingAndGlyphs">800</text>
<line x1="51.64" x2="56.50" y1="1145.5" y2="1145.5" stroke="#000" stroke-width="1.11"/>
<text x="45.30" y="1150.60" font-size="14.90" text-anchor="end" textLength="30.93" lengthAdjust="spacingAndGlyphs">0.00</text>
<line x1="51.64" x2="56.50" y1="1076.5" y2="1076.5" stroke="#000" stroke-width="1.11"/>
<text x="45.30" y="1081.15" font-size="14.90" text-anchor="end" textLength="30.93" lengthAdjust="spacingAndGlyphs">0.25</text>
<line x1="51.64" x2="56.50" y1="1007.5" y2="1007.5" stroke="#000" stroke-width="1.11"/>
<text x="45.30" y="1012.40" font-size="14.90" text-anchor="end" textLength="30.93" lengthAdjust="spacingAndGlyphs">0.50</text>
<line x1="51.64" x2="56.50" y1="938.5" y2="938.5" stroke="#000" stroke-width="1.11"/>
<text x="45.30" y="943.65" font-size="14.90" text-anchor="end" textLength="30.93" lengthAdjust="spacingAndGlyphs">0.75</text>
<line x1="51.64" x2="56.50" y1="870.5" y2="870.5" stroke="#000" stroke-width="1.11"/>
<text x="45.30" y="874.90" font-size="14.90" text-anchor="end" textLength="30.93" lengthAdjust="spacingAndGlyphs">1.00</text>
<line x1="51.64" x2="56.50" y1="801.5" y2="801.5" stroke="#000" stroke-width="1.11"/>
<text x="45.30" y="806.15" font-size="14.90" text-anchor="end" textLength="30.93" lengthAdjust="spacingAndGlyphs">1.25</text>
<line x1="51.64" x2="56.50" y1="732.5" y2="732.5" stroke="#000" stroke-width="1.11"/>
<text x="45.30" y="737.40" font-size="14.90" text-anchor="end" textLength="30.93" lengthAdjust="spacingAndGlyphs">1.50</text>
<line x1="51.64" x2="56.50" y1="663.5" y2="663.5" stroke="#000" stroke-width="1.11"/>
<text x="45.30" y="668.65" font-size="14.90" text-anchor="end" textLength="30.93" lengthAdjust="spacingAndGlyphs">1.75</text>
<line x1="51.64" x2="56.50" y1="595.5" y2="595.5" stroke="#000" stroke-width="1.11"/>
<text x="45.30" y="599.90" font-size="14.90" text-anchor="end" textLength="30.93" lengthAdjust="spacingAndGlyphs">2.00</text>
<line x1="197.5" x2="197.5" y1="566.50" y2="571.36" stroke="#000" stroke-width="1.11"/>
<line x1="349.5" x2="349.5" y1="566.50" y2="571.36" stroke="#000" stroke-width="1.11"/>
<line x1="506.5" x2="506.5" y1="566.50" y2="571.36" stroke="#000" stroke-width="1.11"/>
<line x1="658.5" x2="658.5" y1="566.50" y2="571.36" stroke="#000" stroke-width="1.11"/>
<line x1="56.5" x2="56.5" y1="566.50" y2="571.36" stroke="#000" stroke-width="1.11"/>
<line x1="785.5" x2="785.5" y1="566.50" y2="571.36" stroke="#000" stroke-width="1.11"/>
<line x1="81.5" x2="81.5" y1="566.50" y2="569.60" stroke="#000" stroke-width="0.83"/>
<line x1="116.5" x2="116.5" y1="566.50" y2="569.60" stroke="#000" stroke-width="0.83"/>
<line x1="152.5" x2="152.5" y1="566.50" y2="569.60" stroke="#000" stroke-width="0.83"/>
<line x1="187.5" x2="187.5" y1="566.50" y2="569.60" stroke="#000" stroke-width="0.83"/>
<line x1="223.5" x2="223.5" y1="566.50" y2="569.60" stroke="#000" stroke-width="0.83"/>
<line x1="258.5" x2="258.5" y1="566.50" y2="569.60" stroke="#000" stroke-width="0.83"/>
<line x1="293.5" x2="293.5" y1="566.50" y2="569.60" stroke="#000" stroke-width="0.83"/>
<line x1="329.5" x2="329.5" y1="566.50" y2="569.60" stroke="#000" stroke-width="0.83"/>
<line x1="364.5" x2="364.5" y1="566.50" y2="569.60" stroke="#000" stroke-width="0.83"/>
<line x1="400.5" x2="400.5" y1="566.50" y2="569.60" stroke="#000" stroke-width="0.83"/>
<line x1="435.5" x2="435.5" y1="566.50" y2="569.60" stroke="#000" stroke-width="0.83"/>
<line x1="471.5" x2="471.5" y1="566.50" y2="569.60" stroke="#000" stroke-width="0.83"/>
<line x1="506.5" x2="506.5" y1="566.50" y2="569.60" stroke="#000" stroke-width="0.83"/>
<line x1="542.5" x2="542.5" y1="566.50" y2="569.60" stroke="#000" stroke-width="0.83"/>
<line x1="577.5" x2="577.5" y1="566.50" y2="569.60" stroke="#000" stroke-width="0.83"/>
<line x1="613.5" x2="613.5" y1="566.50" y2="569.60" stroke="#000" stroke-width="0.83"/>
<line x1="648.5" x2="648.5" y1="566.50" y2="569.60" stroke="#000" stroke-width="0.83"/>
<line x1="684.5" x2="684.5" y1="566.50" y2="569.60" stroke="#000" stroke-width="0.83"/>
<line x1="719.5" x2="719.5" y1="566.50" y2="569.60" stroke="#000" stroke-width="0.83"/>
<line x1="755.5" x2="755.5" y1="566.50" y2="569.60" stroke="#000" stroke-width="0.83"/>
<line x1="197.5" x2="197.5" y1="1145.50" y2="1150.36" stroke="#000" stroke-width="1.11"/>
<line x1="349.5" x2="349.5" y1="1145.50" y2="1150.36" stroke="#000" stroke-width="1.11"/>
<line x1="506.5" x2="506.5" y1="1145.50" y2="1150.36" stroke="#000" stroke-width="1.11"/>
<line x1="658.5" x2="658.5" y1="1145.50" y2="1150.36" stroke="#000" stroke-width="1.11"/>
<line x1="56.5" x2="56.5" y1="1145.50" y2="1150.36" stroke="#000" stroke-width="1.11"/>
<line x1="785.5" x2="785.5" y1="1145.50" y2="1150.36" stroke="#000" stroke-width="1.11"/>
<line x1="81.5" x2="81.5" y1="1145.50" y2="1148.60" stroke="#000" stroke-width="0.83"/>
<line x1="116.5" x2="116.5" y1="1145.50" y2="1148.60" stroke="#000" stroke-width="0.83"/>
<line x1="152.5" x2="152.5" y1="1145.50" y2="1148.60" stroke="#000" stroke-width="0.83"/>
<line x1="187.5" x2="187.5" y1="1145.50" y2="1148.60" stroke="#000" stroke-width="0.83"/>
<line x1="223.5" x2="223.5" y1="1145.50" y2="1148.60" stroke="#000" stroke-width="0.83"/>
<line x1="258.5" x2="258.5" y1="1145.50" y2="1148.60" stroke="#000" stroke-width="0.83"/>
<line x1="293.5" x2="293.5" y1="1145.50" y2="1148.60" stroke="#000" stroke-width="0.83"/>
<line x1="329.5" x2="329.5" y1="1145.50" y2="1148.60" stroke="#000" stroke-width="0.83"/>
<line x1="364.5" x2="364.5" y1="1145.50" y2="1148.60" stroke="#000" stroke-width="0.83"/>
<line x1="400.5" x2="400.5" y1="1145.50" y2="1148.60" stroke="#000" stroke-width="0.83"/>
<line x1="435.5" x2="435.5" y1="1145.50" y2="1148.60" stroke="#000" stroke-width="0.83"/>
<line x1="471.5" x2="471.5" y1="1145.50" y2="1148.60" stroke="#000" stroke-width="0.83"/>
<line x1="506.5" x2="506.5" y1="1145.50" y2="1148.60" stroke="#000" stroke-width="0.83"/>
<line x1="542.5" x2="542.5" y1="1145.50" y2="1148.60" stroke="#000" stroke-width="0.83"/>
<line x1="577.5" x2="577.5" y1="1145.50" y2="1148.60" stroke="#000" stroke-width="0.83"/>
<line x1="613.5" x2="613.5" y1="1145.50" y2="1148.60" stroke="#000" stroke-width="0.83"/>
<line x1="648.5" x2="648.5" y1="1145.50" y2="1148.60" stroke="#000" stroke-width="0.83"/>
<line x1="684.5" x2="684.5" y1="1145.50" y2="1148.60" stroke="#000" stroke-width="0.83"/>
<line x1="719.5" x2="719.5" y1="1145.50" y2="1148.60" stroke="#000" stroke-width="0.83"/>
<line x1="755.5" x2="755.5" y1="1145.50" y2="1148.60" stroke="#000" stroke-width="0.83"/>
<text x="197.50" y="1165.60" font-size="14.90" text-anchor="middle" textLength="24.03" lengthAdjust="spacingAndGlyphs">Apr</text>
<text x="197.50" y="1181.90" font-size="14.90" text-anchor="middle" textLength="35.35" lengthAdjust="spacingAndGlyphs">2020</text>
<text x="349.50" y="1165.60" font-size="14.90" text-anchor="middle" textLength="28.72" lengthAdjust="spacingAndGlyphs">May</text>
<text x="506.50" y="1165.60" font-size="14.90" text-anchor="middle" textLength="21.70" lengthAdjust="spacingAndGlyphs">Jun</text>
<text x="658.50" y="1165.60" font-size="14.90" text-anchor="middle" textLength="16.76" lengthAdjust="spacingAndGlyphs">Jul</text>
<text x="397.50" y="35.60" font-size="17.80" text-anchor="middle" textLength="158.71" lengthAdjust="spacingAndGlyphs">Deschutes 28 days</text>
<rect x="658.43" y="22.40" width="120.07" height="25.10" rx="2.8" ry="2.8" fill="#fff" fill-opacity="0.8" stroke="#ccc" stroke-opacity="0.8" stroke-width="1.11"/>
<line x1="663.99" x2="691.79" y1="33.70" y2="33.70" stroke="#1f77b4" stroke-width="2.08" stroke-linecap="square"/>
<text x="702.89" y="38.20" font-size="14.90" text-anchor="start" textLength="70.05" lengthAdjust="spacingAndGlyphs">confirmed</text>
<rect x="681.12" y="602.00" width="97.38" height="25.50" rx="2.8" ry="2.8" fill="#fff" fill-opacity="0.8" stroke="#ccc" stroke-opacity="0.8" stroke-width="1.11"/>
<line x1="686.68" x2="714.48" y1="613.70" y2="613.70" stroke="#1f77b4" stroke-width="2.08" stroke-linecap="square"/>
<text x="725.58" y="618.20" font-size="14.90" text-anchor="start" textLength="47.36" lengthAdjust="spacingAndGlyphs">deaths</text>
</svg>
</body></html>
